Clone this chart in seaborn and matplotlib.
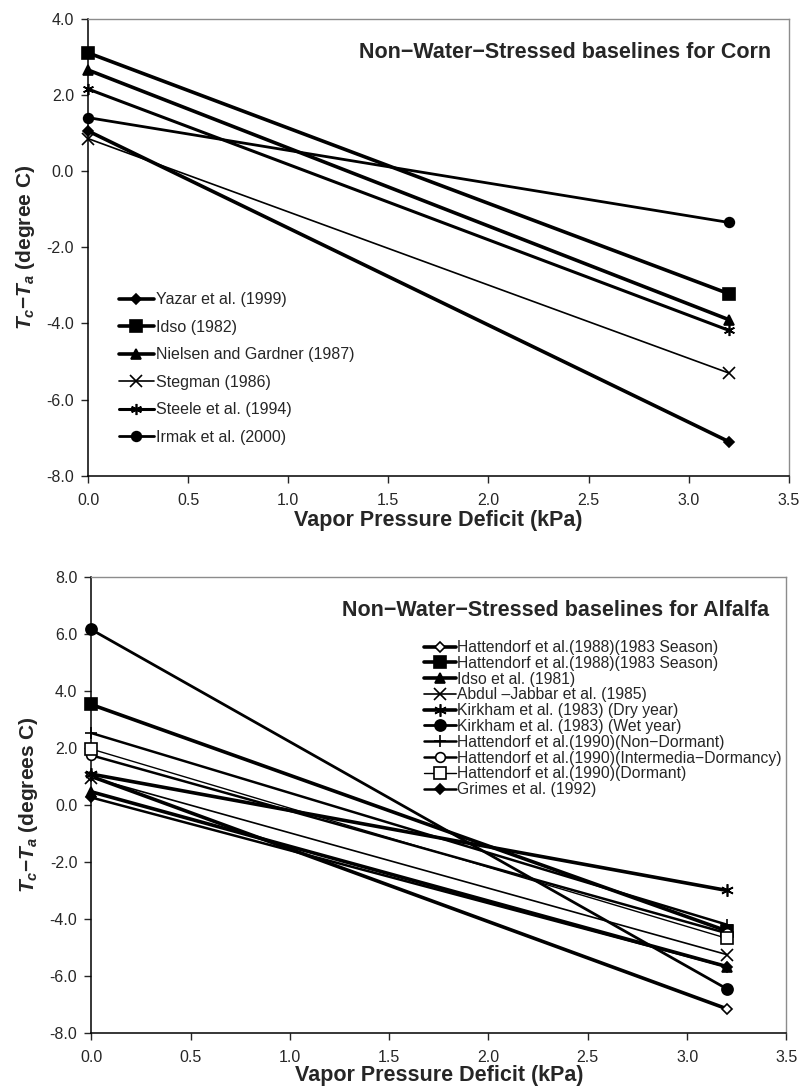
import pandas as pd
import seaborn as sns
import matplotlib.pyplot as plt

# x positions of the two ends of each baseline
vpd = [0.0, 3.2]

# corn baselines (Tc-Ta at VPD = 0 and 3.2 kPa)
corn_names = ['Yazar et al. (1999)', 'Idso (1982)', 'Nielsen and Gardner (1987)',
              'Stegman (1986)', 'Steele et al. (1994)', 'Irmak et al. (2000)']
corn_start = [1.05, 3.1, 2.65, 0.85, 2.15, 1.4]
corn_end = [-7.1, -3.22, -3.9, -5.3, -4.18, -1.35]

# alfalfa baselines
alf_names = ['Hattendorf et al.(1988)(1983 Season)', 'Hattendorf et al.(1988)(1983 Season)',
             'Idso et al. (1981)', 'Abdul \u2013Jabbar et al. (1985)',
             'Kirkham et al. (1983) (Dry year)', 'Kirkham et al. (1983) (Wet year)',
             'Hattendorf et al.(1990)(Non\u2212Dormant)',
             'Hattendorf et al.(1990)(Intermedia\u2212Dormancy)',
             'Hattendorf et al.(1990)(Dormant)', 'Grimes et al. (1992)']
alf_start = [1.0, 3.52, 0.46, 0.96, 1.08, 6.15, 2.52, 1.74, 1.96, 0.26]
alf_end = [-7.15, -4.42, -5.67, -5.25, -3.0, -6.45, -4.2, -4.5, -4.68, -5.67]

# drawing styles: marker, marker size, line width, filled marker
corn_style = [('D', 5, 2.6, True), ('s', 9, 2.6, True), ('^', 7, 2.6, True),
              ('x', 8, 1.2, True), ('x', 8, 2.2, True), ('o', 7, 2.0, True)]
alf_style = [('D', 5, 2.6, False), ('s', 8, 2.6, True), ('^', 7, 2.6, True),
             ('x', 8, 1.2, True), ('x', 9, 2.6, True), ('o', 8, 2.0, True),
             ('+', 9, 1.8, True), ('o', 7, 1.8, False), ('s', 8, 1.0, False),
             ('D', 5, 1.8, True)]

sns.set_style('white')
plt.rcParams['font.family'] = ['Liberation Sans', 'DejaVu Sans']
plt.rcParams['mathtext.fontset'] = 'custom'
plt.rcParams['mathtext.it'] = 'Liberation Sans:bold:italic'
plt.rcParams['mathtext.rm'] = 'Liberation Sans:bold'


def draw_panel(ax, names, starts, ends, styles, title, ylabel, ylim, yticks, xpad):
    for i, (name, y0, y1) in enumerate(zip(names, starts, ends)):
        m, ms, lw, filled = styles[i]
        if m == 'x' and lw > 2:
            m = (6, 2, 0)  # asterisk-like star for Steele / Kirkham dry
        df = pd.DataFrame({'vpd': vpd, 'dT': [y0, y1]})
        sns.lineplot(data=df, x='vpd', y='dT', ax=ax, color='black', lw=lw,
                     marker=m, markersize=ms, markeredgecolor='black',
                     markerfacecolor='black' if filled else 'white',
                     markeredgewidth=1.2, label=name, clip_on=False, zorder=3)
    ax.set_xlim(0, 3.5)
    ax.set_ylim(*ylim)
    ax.set_xticks([0, 0.5, 1, 1.5, 2, 2.5, 3, 3.5])
    ax.set_yticks(yticks)
    ax.xaxis.set_major_formatter(plt.FormatStrFormatter('%.1f'))
    ax.yaxis.set_major_formatter(plt.FormatStrFormatter('%.1f'))
    ax.tick_params(axis='both', direction='out', length=5, width=1,
                   labelsize=11.5, left=True, bottom=True)
    ax.tick_params(axis='x', pad=7)
    ax.tick_params(axis='y', pad=5)
    for s in ['left', 'bottom']:
        ax.spines[s].set_color('black')
        ax.spines[s].set_linewidth(1.1)
    for s in ['top', 'right']:
        ax.spines[s].set_color('#8c8c8c')
        ax.spines[s].set_linewidth(1.0)
    ax.set_xlabel('Vapor Pressure Deficit (kPa)', fontsize=15.5, fontweight='bold', labelpad=xpad)
    ax.set_ylabel(ylabel, fontsize=15, fontweight='bold', labelpad=7)
    ax.text(0.975, 0.925, title, transform=ax.transAxes, ha='right', va='center',
            fontsize=15.5, fontweight='bold')


fig = plt.figure(figsize=(8, 10.89), dpi=100)
ax1 = fig.add_axes([0.11, 0.563, 0.876, 0.42])
ax2 = fig.add_axes([0.114, 0.0514, 0.869, 0.419])

draw_panel(ax1, corn_names, corn_start, corn_end, corn_style,
           'Non\u2212Water\u2212Stressed baselines for Corn',
           r'$T_c$' + '\u2212' + r'$T_a$ (degree C)',
           (-8, 4), [-8, -6, -4, -2, 0, 2, 4], 1.5)
ax1.legend(loc='upper left', bbox_to_anchor=(0.035, 0.415), frameon=False,
           fontsize=11.5, handlelength=2.2, handletextpad=0.1, labelspacing=0.78,
           borderaxespad=0)

draw_panel(ax2, alf_names, alf_start, alf_end, alf_style,
           'Non\u2212Water\u2212Stressed baselines for Alfalfa',
           r'$T_c$' + '\u2212' + r'$T_a$ (degrees C)',
           (-8, 8), [-8, -6, -4, -2, 0, 2, 4, 6, 8], 0)
ax2.legend(loc='upper left', bbox_to_anchor=(0.47, 0.875), frameon=False,
           fontsize=11.3, handlelength=2.0, handletextpad=0.1, labelspacing=0.05,
           borderaxespad=0)

fig.savefig('out.png', dpi=100)
